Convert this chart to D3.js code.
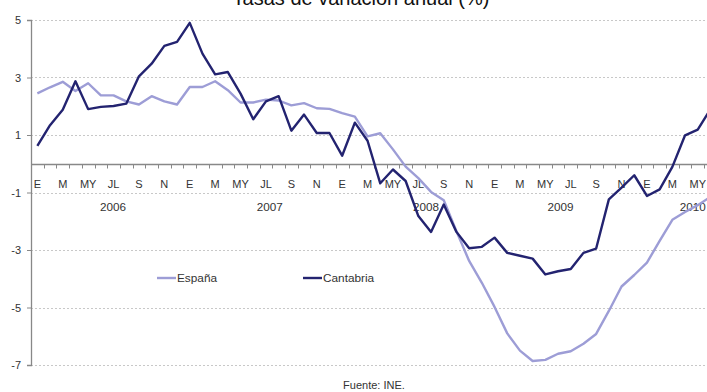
<!DOCTYPE html>
<html>
<head>
<meta charset="utf-8">
<script src="https://cdn.jsdelivr.net/npm/d3@7"></script>
<style>
  html, body { margin: 0; padding: 0; background: #fff; overflow: hidden; }
  svg { display: block; font-family: "Liberation Sans", Arial, sans-serif; }
</style>
</head>
<body>
<svg id="chart" width="707" height="392"></svg>
<script>
// Monthly series, January 2006 – June 2010
const monthLabels = ["E", "F", "M", "A", "MY", "JN", "JL", "AG", "S", "O", "N", "D"];
const years = [2006, 2007, 2008, 2009, 2010];
const yearLabelIndex = [5.96, 18.3, 30.6, 41.2, 51.6];
const yTicks = [5, 3, 1, -1, -3, -5, -7];

const espana = [
  2.45, 2.66, 2.85, 2.53, 2.80, 2.38, 2.38, 2.17, 2.06, 2.35, 2.17, 2.06,
  2.67, 2.67, 2.87, 2.56, 2.13, 2.13, 2.23, 2.20, 2.03, 2.11, 1.93, 1.91,
  1.76, 1.64, 0.95, 1.06, 0.50, -0.10, -0.50, -0.98, -1.27, -2.35, -3.38, -4.14,
  -4.98, -5.90, -6.50, -6.86, -6.82, -6.61, -6.52, -6.26, -5.92, -5.12, -4.27, -3.87,
  -3.44, -2.68, -1.95, -1.68, -1.44, -1.15
];
const cantabria = [
  0.62, 1.34, 1.88, 2.87, 1.90, 1.98, 2.01, 2.09, 3.04, 3.48, 4.10, 4.24,
  4.90, 3.83, 3.11, 3.19, 2.44, 1.55, 2.17, 2.35, 1.15, 1.71, 1.07, 1.07,
  0.28, 1.43, 0.80, -0.68, -0.20, -0.60, -1.82, -2.37, -1.42, -2.37, -2.94, -2.89,
  -2.57, -3.10, -3.20, -3.30, -3.85, -3.74, -3.66, -3.10, -2.95, -1.24, -0.83, -0.40,
  -1.12, -0.89, -0.11, 0.99, 1.19, 1.90
];

const series = [
  { name: "España", values: espana, color: "#9d9dd6" },
  { name: "Cantabria", values: cantabria, color: "#232370" }
];

const svg = d3.select("#chart");
const textColor = "#333";

const plotLeft = 31, plotTop = 20, plotBottom = 365;
const n = espana.length;
const monthStep = 12.7;

const x = d3.scaleBand()
  .domain(d3.range(n))
  .range([plotLeft, plotLeft + n * monthStep])
  .paddingInner(0).paddingOuter(0);
const xc = i => x(i) + x.bandwidth() / 2;
const xf = v => plotLeft + (v + 0.5) * x.bandwidth();

const y = d3.scaleLinear().domain([-7, 5]).range([plotBottom, plotTop]);
const plotRight = plotLeft + n * monthStep;

// Title (runs off the top edge of the frame)
svg.append("text")
  .attr("x", 361).attr("y", 5)
  .attr("text-anchor", "middle")
  .attr("font-size", 20)
  .attr("fill", "#111")
  .text("Tasas de variación anual (%)");

// Dotted gridlines
svg.append("g")
  .selectAll("line")
  .data(yTicks)
  .join("line")
  .attr("x1", plotLeft).attr("x2", plotRight)
  .attr("y1", d => Math.round(y(d)) + 0.5).attr("y2", d => Math.round(y(d)) + 0.5)
  .attr("stroke", "#c8c8c8")
  .attr("stroke-width", 1)
  .attr("stroke-dasharray", "2,2");

// Value axis
const yAxis = d3.axisLeft(y).tickValues(yTicks).tickSize(4).tickPadding(6)
  .tickFormat(d => String(d));
const gy = svg.append("g").attr("transform", `translate(${plotLeft},0)`).call(yAxis);
gy.select(".domain").attr("stroke", "#888").attr("stroke-width", 1.3);
gy.selectAll(".tick line").attr("stroke", "#888");
gy.selectAll(".tick text").attr("font-size", 11).attr("fill", textColor)
  .attr("font-family", "Liberation Sans, Arial, sans-serif");

// Category axis along zero
const zeroY = Math.round(y(0)) + 0.5;
svg.append("line")
  .attr("x1", plotLeft).attr("x2", plotRight)
  .attr("y1", zeroY).attr("y2", zeroY)
  .attr("stroke", "#888").attr("stroke-width", 1.5);

svg.append("g")
  .selectAll("line")
  .data(d3.range(n + 1))
  .join("line")
  .attr("x1", d => Math.round(plotLeft + d * x.bandwidth()) + 0.5)
  .attr("x2", d => Math.round(plotLeft + d * x.bandwidth()) + 0.5)
  .attr("y1", zeroY).attr("y2", zeroY + 4)
  .attr("stroke", "#888").attr("stroke-width", 1);

// Month labels, every second month
svg.append("g")
  .selectAll("text")
  .data(d3.range(0, n, 2))
  .join("text")
  .attr("x", d => xc(d))
  .attr("y", zeroY + 23)
  .attr("text-anchor", "middle")
  .attr("font-size", 11)
  .attr("fill", textColor)
  .text(d => monthLabels[d % 12]);

// Year labels
svg.append("g")
  .selectAll("text")
  .data(years)
  .join("text")
  .attr("x", (d, i) => xf(yearLabelIndex[i]))
  .attr("y", zeroY + 46)
  .attr("text-anchor", "middle")
  .attr("font-size", 11.7)
  .attr("fill", textColor)
  .text(d => d);

// Series lines
const line = d3.line()
  .x((d, i) => xc(i))
  .y(d => y(d));

svg.append("g")
  .selectAll("path")
  .data(series)
  .join("path")
  .attr("d", d => line(d.values))
  .attr("fill", "none")
  .attr("stroke", d => d.color)
  .attr("stroke-width", 2.4)
  .attr("stroke-linejoin", "round");

// Legend
const legendX = [157, 303];
const legend = svg.append("g")
  .selectAll("g")
  .data(series)
  .join("g")
  .attr("transform", (d, i) => `translate(${legendX[i]},278)`);
legend.append("line")
  .attr("x1", 0).attr("x2", 19).attr("y1", 0).attr("y2", 0)
  .attr("stroke", d => d.color).attr("stroke-width", 2.4);
legend.append("text")
  .attr("x", 20).attr("y", 4)
  .attr("font-size", 11.8)
  .attr("fill", textColor)
  .text(d => d.name);

// Source
svg.append("text")
  .attr("x", 374).attr("y", 389)
  .attr("text-anchor", "middle")
  .attr("font-size", 11)
  .attr("fill", textColor)
  .text("Fuente: INE.");
</script>
</body>
</html>
